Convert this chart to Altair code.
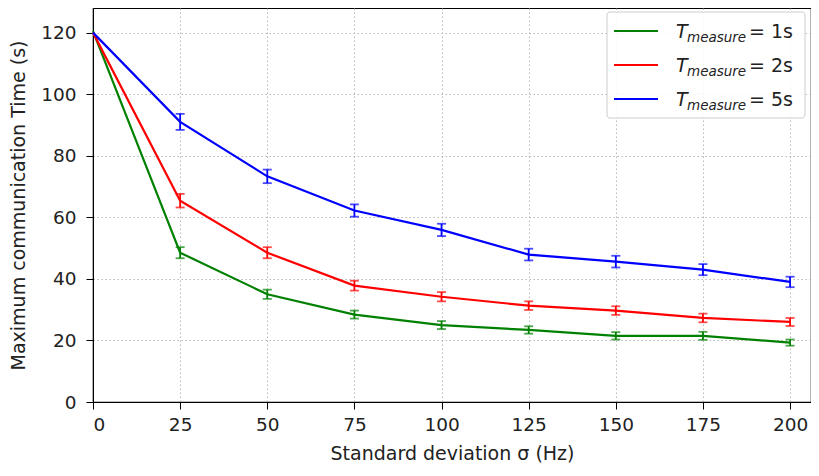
import altair as alt
import pandas as pd

sigma = [0, 25, 50, 75, 100, 125, 150, 175, 200]
series_names = ["1s", "2s", "5s"]
t1 = [120.5, 48.5, 35.0, 28.4, 25.0, 23.4, 21.5, 21.5, 19.3]
t2 = [120, 65.4, 48.5, 37.8, 34.2, 31.3, 29.7, 27.3, 26.0]
t5 = [120, 91.0, 73.3, 62.2, 55.9, 47.9, 45.6, 43.0, 39.0]
e1 = [0, 1.8, 1.5, 1.3, 1.3, 1.2, 1.2, 1.3, 1.0]
e2 = [0, 2.2, 1.8, 1.6, 1.5, 1.4, 1.4, 1.4, 1.3]
e5 = [0, 2.6, 2.2, 2.0, 2.0, 1.9, 1.9, 1.8, 1.7]
colors = ["#008000", "#ff0000", "#0000ff"]

rows = []
for name, ts, es in zip(series_names, [t1, t2, t5], [e1, e2, e5]):
    for s, t, e in zip(sigma, ts, es):
        rows.append({"sigma": s, "time": t, "err": e, "series": name,
                     "lo": t - e, "hi": t + e})
df = pd.DataFrame(rows)

W, H = 718, 394
xscale = alt.Scale(domain=[0, 206], nice=False, zero=False)
yscale = alt.Scale(domain=[0, 128], nice=False)
cscale = alt.Scale(domain=series_names, range=colors)

base = alt.Chart(df)
x = alt.X("sigma:Q", scale=xscale,
          axis=alt.Axis(values=sigma, title="Standard deviation σ (Hz)"))
y = alt.Y("time:Q", scale=yscale,
          axis=alt.Axis(values=[0, 20, 40, 60, 80, 100, 120],
                        title="Maximum communication Time (s)"))
col = alt.Color("series:N", scale=cscale, legend=None)

lines = base.mark_line(strokeWidth=2.2).encode(x=x, y=y, color=col, detail="series:N")
bars = base.transform_filter("datum.err > 0").mark_rule(strokeWidth=1.8).encode(
    x="sigma:Q", y=alt.Y("lo:Q", scale=yscale), y2="hi:Q", color=col)
caps_lo = base.transform_filter("datum.err > 0").mark_tick(
    orient="horizontal", size=9, thickness=1.8).encode(
    x="sigma:Q", y=alt.Y("lo:Q", scale=yscale), color=col)
caps_hi = base.transform_filter("datum.err > 0").mark_tick(
    orient="horizontal", size=9, thickness=1.8).encode(
    x="sigma:Q", y=alt.Y("hi:Q", scale=yscale), color=col)

# legend (manual, matplotlib style)
one = alt.Chart(pd.DataFrame({"k": [0]}))
box = one.mark_rect(fill="white", fillOpacity=0.85, stroke="#cccccc",
                    strokeWidth=1, cornerRadius=3).encode(
    x=alt.value(514), x2=alt.value(712), y=alt.value(4), y2=alt.value(110))
leg_layers = [box]
for i, (name, c) in enumerate(zip(series_names, colors)):
    yy = 23 + i * 34
    leg_layers.append(one.mark_rule(color=c, strokeWidth=2.2).encode(
        x=alt.value(521), x2=alt.value(565), y=alt.value(yy)))
    leg_layers.append(one.mark_text(text="T", fontStyle="italic", fontSize=19,
                                    align="left", baseline="alphabetic",
                                    font="DejaVu Sans", color="#222").encode(
        x=alt.value(583), y=alt.value(yy + 7)))
    leg_layers.append(one.mark_text(text="measure", fontStyle="italic", fontSize=13.5,
                                    align="left", baseline="alphabetic",
                                    font="DejaVu Sans", color="#222").encode(
        x=alt.value(594), y=alt.value(yy + 11)))
    leg_layers.append(one.mark_text(text="= " + name, fontSize=19,
                                    align="left", baseline="alphabetic",
                                    font="DejaVu Sans", color="#222").encode(
        x=alt.value(656), y=alt.value(yy + 7)))

chart = alt.layer(lines, bars, caps_lo, caps_hi, *leg_layers).properties(
    width=W, height=H,
    autosize=alt.AutoSizeParams(type="none"),
    padding={"left": 85, "top": 0, "right": 0, "bottom": 66},
).configure_view(stroke="black", strokeWidth=1.2).configure_axis(
    domainColor="black", tickColor="black", tickSize=7, labelColor="#222",
    titleColor="#222", labelFont="DejaVu Sans", titleFont="DejaVu Sans",
    labelFontSize=18.5, titleFontSize=19, titleFontWeight="normal",
    gridColor="#b0b0b0", gridDash=[1.5, 2.5], gridWidth=0.9,
).configure_axisX(titlePadding=11, labelPadding=6).configure_axisY(
    titlePadding=12, labelPadding=10)

chart.save("out.html", embed_options={"renderer": "svg", "actions": False})
